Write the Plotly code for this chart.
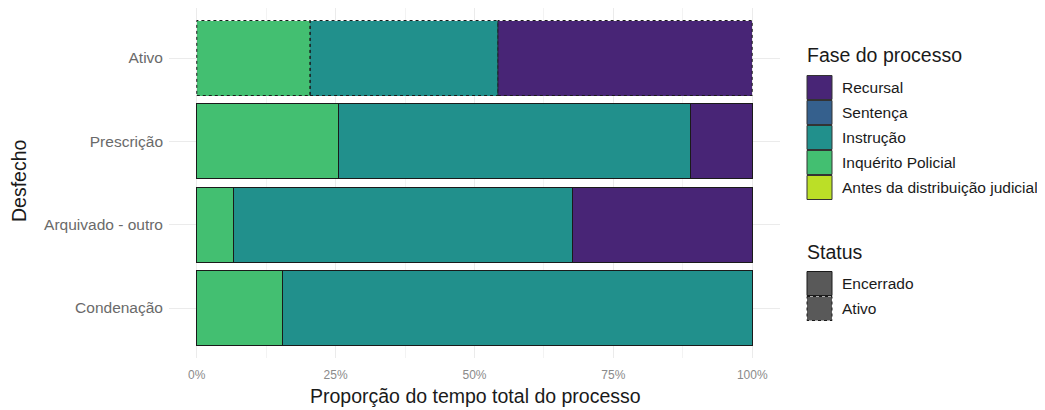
import plotly.graph_objects as go

# ---- data ----
desfechos = ["Condenação", "Arquivado - outro", "Prescrição", "Ativo"]
status = ["Encerrado", "Encerrado", "Encerrado", "Ativo"]
fases = ["Recursal", "Sentença", "Instrução", "Inquérito Policial", "Antes da distribuição judicial"]
fase_cores = ["#482576", "#35608D", "#21908C", "#43BF71", "#BBDF27"]
antes = [0.0, 0.0, 0.0, 0.0]
inquerito = [0.155, 0.067, 0.256, 0.204]
instrucao = [0.845, 0.609, 0.632, 0.338]
sentenca = [0.0, 0.0, 0.0, 0.0]
recursal = [0.0, 0.324, 0.112, 0.458]
status_niveis = ["Encerrado", "Ativo"]
x_ticks = [0, 0.25, 0.5, 0.75, 1.0]
x_ticklabels = ["0%", "25%", "50%", "75%", "100%"]

# stack order left -> right
series = [
    ("Antes da distribuição judicial", antes),
    ("Inquérito Policial", inquerito),
    ("Instrução", instrucao),
    ("Sentença", sentenca),
    ("Recursal", recursal),
]
cor = dict(zip(fases, fase_cores))

# ---- layout geometry (page pixels; the page body adds an 8px margin) ----
OFF = 8
W, H = 1045 - OFF, 410 - OFF
L, T, R, B = 169 - OFF, 8 - OFF, 780 - OFF, 358 - OFF
PW, PH = R - L, B - T
def px(x):
    return (x - OFF - L) / PW
def py(y):
    return 1 - (y - OFF - T) / PH

FONT = "Liberation Sans, Arial, sans-serif"

fig = go.Figure()
line_w = [0 if s == "Ativo" else 1 for s in status]
for nome, vals in series:
    if all(v == 0 for v in vals):
        continue
    fig.add_trace(go.Bar(
        y=desfechos, x=vals, orientation="h", name=nome,
        marker=dict(color=cor[nome], line=dict(color="#1a1a1a", width=line_w)),
        width=0.9, showlegend=False, hoverinfo="x+y+name",
    ))

# dotted outlines for "Ativo" bars (computed from data)
shapes = []
for i, s in enumerate(status):
    if s != "Ativo":
        continue
    acc = 0.0
    for nome, vals in series:
        v = vals[i]
        if v <= 0:
            continue
        shapes.append(dict(type="rect", xref="x", yref="y",
                           x0=acc, x1=acc + v, y0=i - 0.45, y1=i + 0.45,
                           line=dict(color="#1a1a1a", width=1, dash="dot"),
                           fillcolor="rgba(0,0,0,0)", layer="above"))
        acc += v

# ---- manual legend ----
annotations = []
lx0, lx1, ltx = 807, 832, 840
font_leg = dict(family=FONT, size=15.5, color="#1a1a1a")
font_lt = dict(family=FONT, size=19.5, color="#1a1a1a")
annotations.append(dict(x=px(805), y=py(55), xref="paper", yref="paper", text="Fase do processo",
                        showarrow=False, xanchor="left", yanchor="middle", font=font_lt))
y_top = 75
for k, f in enumerate(fases):
    y0 = y_top + k * 25
    shapes.append(dict(type="rect", xref="paper", yref="paper", x0=px(lx0), x1=px(lx1),
                       y0=py(y0 + 0.5), y1=py(y0 + 24.5), fillcolor=cor[f],
                       line=dict(color="#333333", width=1)))
    annotations.append(dict(x=px(ltx), y=py(y0 + 12.5), xref="paper", yref="paper", text=f,
                            showarrow=False, xanchor="left", yanchor="middle", font=font_leg))
annotations.append(dict(x=px(805), y=py(252), xref="paper", yref="paper", text="Status",
                        showarrow=False, xanchor="left", yanchor="middle", font=font_lt))
for k, s in enumerate(status_niveis):
    y0 = 271 + k * 25
    shapes.append(dict(type="rect", xref="paper", yref="paper", x0=px(lx0), x1=px(lx1),
                       y0=py(y0 + 0.5), y1=py(y0 + 24.5), fillcolor="#595959",
                       line=dict(color="#1a1a1a", width=1, dash="solid" if s == "Encerrado" else "dot")))
    annotations.append(dict(x=px(ltx), y=py(y0 + 12.5), xref="paper", yref="paper", text=s,
                            showarrow=False, xanchor="left", yanchor="middle", font=font_leg))

# axis titles
annotations.append(dict(x=px(475), y=py(396), xref="paper", yref="paper",
                        text="Proporção do tempo total do processo", showarrow=False,
                        xanchor="center", yanchor="middle",
                        font=dict(family=FONT, size=19.5, color="#1a1a1a")))
annotations.append(dict(x=px(19), y=py(181), xref="paper", yref="paper",
                        text="Desfecho", showarrow=False, textangle=-90,
                        xanchor="center", yanchor="middle",
                        font=dict(family=FONT, size=19.5, color="#1a1a1a")))

fig.update_layout(
    width=W, height=H,
    margin=dict(l=L, r=W - R, t=T, b=H - B, autoexpand=False),
    barmode="stack", bargap=0.1,
    plot_bgcolor="white", paper_bgcolor="white",
    showlegend=False,
    shapes=shapes, annotations=annotations,
    font=dict(family=FONT),
    xaxis=dict(range=[-0.05, 1.05], tickvals=x_ticks, ticktext=x_ticklabels,
               showgrid=True, gridcolor="#ebebeb", gridwidth=1.2, zeroline=False,
               minor=dict(dtick=0.125, tick0=0, showgrid=True, gridcolor="#f3f3f3", gridwidth=0.6),
               tickfont=dict(family=FONT, size=12, color="#8a8a8a"), ticks="", ticklabelstandoff=8,
               showline=False, automargin=False),
    yaxis=dict(categoryorder="array", categoryarray=desfechos, range=[-0.6, 3.6],
               showgrid=True, gridcolor="#ebebeb", gridwidth=1.2, zeroline=False,
               tickfont=dict(family=FONT, size=15.5, color="#6a6a6a"), ticks="", ticklabelstandoff=5,
               showline=False, automargin=False),
)

fig.write_html("out.html")
